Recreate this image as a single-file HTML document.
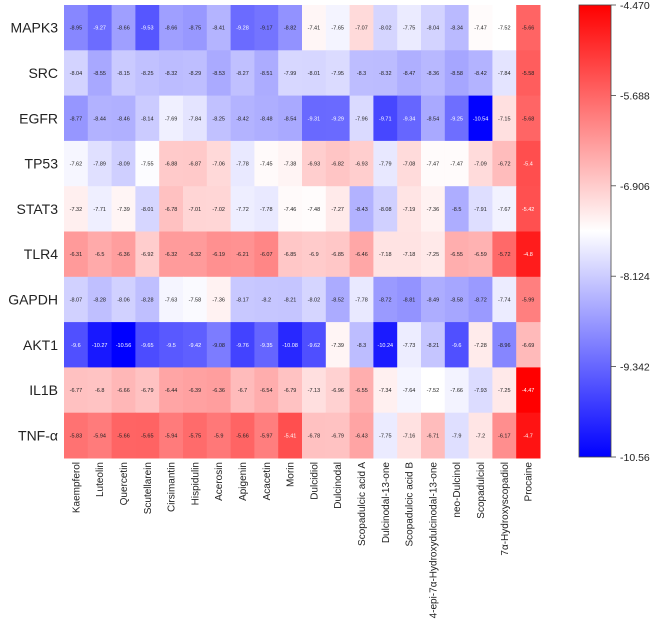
<!DOCTYPE html>
<html><head><meta charset="utf-8"><style>
body{margin:0;background:#fff;width:669px;height:629px;overflow:hidden;font-family:"Liberation Sans",Arial,sans-serif}
</style></head><body>
<svg id="chart" width="669" height="629" xmlns="http://www.w3.org/2000/svg">
<defs><linearGradient id="cbg" x1="0" y1="0" x2="0" y2="1">
<stop offset="0" stop-color="#ff0000"/><stop offset="0.5" stop-color="#ffffff"/><stop offset="1" stop-color="#0000ff"/></linearGradient></defs>
<g id="cells"></g><g id="rowlabels"></g><g id="collabels"></g>
<rect x="579" y="5" width="32" height="452" fill="url(#cbg)" stroke="#444" stroke-width="0.8"/>
<g id="cbticks"></g>
</svg>
<script>
const rows=["MAPK3","SRC","EGFR","TP53","STAT3","TLR4","GAPDH","AKT1","IL1B","TNF-α"];
const cols=["Kaempferol","Luteolin","Quercetin","Scutellarein","Cirsimantin","Hispidulin","Acerosin","Apigenin","Acacetin","Morin","Dulcidiol","Dulcinodal","Scopadulcic acid A","Dulcinodal-13-one","Scopadulcic acid B","4-epi-7α-Hydroxydulcinodal-13-one","neo-Dulcinol","Scopadulciol","7α-Hydroxyscopadiol","Procaine"];
const vMAPK3=[-8.95,-9.27,-8.66,-9.53,-8.66,-8.75,-8.41,-9.28,-9.17,-8.82,-7.41,-7.65,-7.07,-8.02,-7.75,-8.04,-8.34,-7.47,-7.52,-5.66];
const vSRC=[-8.04,-8.55,-8.15,-8.25,-8.32,-8.29,-8.53,-8.27,-8.51,-7.99,-8.01,-7.95,-8.3,-8.32,-8.47,-8.36,-8.58,-8.42,-7.84,-5.58];
const vEGFR=[-8.77,-8.44,-8.46,-8.14,-7.69,-7.84,-8.25,-8.42,-8.48,-8.54,-9.31,-9.29,-7.96,-9.71,-9.34,-8.54,-9.25,-10.54,-7.15,-5.68];
const vTP53=[-7.62,-7.89,-8.09,-7.55,-6.88,-6.87,-7.06,-7.78,-7.45,-7.38,-6.93,-6.82,-6.93,-7.79,-7.08,-7.47,-7.47,-7.09,-6.72,-5.4];
const vSTAT3=[-7.32,-7.71,-7.39,-8.01,-6.78,-7.01,-7.02,-7.72,-7.78,-7.46,-7.48,-7.27,-8.43,-8.08,-7.19,-7.36,-8.5,-7.91,-7.67,-5.42];
const vTLR4=[-6.31,-6.5,-6.36,-6.92,-6.32,-6.32,-6.19,-6.21,-6.07,-6.85,-6.9,-6.85,-6.46,-7.18,-7.18,-7.25,-6.55,-6.59,-5.72,-4.8];
const vGAPDH=[-8.07,-8.28,-8.06,-8.28,-7.63,-7.58,-7.36,-8.17,-8.2,-8.21,-8.02,-8.52,-7.78,-8.72,-8.81,-8.49,-8.58,-8.72,-7.74,-5.99];
const vAKT1=[-9.6,-10.27,-10.56,-9.65,-9.5,-9.42,-9.08,-9.76,-9.35,-10.08,-9.62,-7.39,-8.3,-10.24,-7.73,-8.21,-9.6,-7.28,-8.96,-6.69];
const vIL1B=[-6.77,-6.8,-6.66,-6.79,-6.44,-6.39,-6.36,-6.7,-6.54,-6.79,-7.13,-6.96,-6.55,-7.34,-7.64,-7.52,-7.66,-7.93,-7.25,-4.47];
const vTNF=[-5.83,-5.94,-5.66,-5.65,-5.94,-5.75,-5.9,-5.66,-5.97,-5.41,-6.78,-6.79,-6.43,-7.75,-7.16,-6.71,-7.9,-7.2,-6.17,-4.7];
const cbTicks=["-4.470","-5.688","-6.906","-8.124","-9.342","-10.56"];
const vmin=-10.56,vmax=-4.47;
const data=[vMAPK3,vSRC,vEGFR,vTP53,vSTAT3,vTLR4,vGAPDH,vAKT1,vIL1B,vTNF];
const NS="http://www.w3.org/2000/svg";
const X0=64,X1=540,Y0=5,Y1=458;
const cw=(X1-X0)/cols.length, rh=(Y1-Y0)/rows.length;
const xS=i=>X0+i*cw, yS=j=>Y0+j*rh;
function color(v){const mid=(vmin+vmax)/2;let r,g,b;
 if(v>=mid){const t=Math.min(1,(v-mid)/(vmax-mid));r=255;g=b=Math.round(255*(1-t));}
 else{const t=Math.min(1,(mid-v)/(mid-vmin));b=255;r=g=Math.round(255*(1-t));}
 return `rgb(${r},${g},${b})`;}
function mk(t,a,p){const e=document.createElementNS(NS,t);for(const k in a)e.setAttribute(k,a[k]);p.appendChild(e);return e;}
const gc=document.getElementById('cells');
data.forEach((row,j)=>row.forEach((v,i)=>{
 const r=mk('rect',{x:xS(i),y:yS(j),width:cw+0.5,height:rh+0.5,fill:color(v)},gc);
 
 
 const t=mk('text',{x:xS(i)+cw/2,y:yS(j)+rh/2+2,'text-anchor':'middle','font-size':'5.5',fill:(v<-9.2||v>-5.5)?'#fff':'#222'},gc);
 t.textContent=String(v);
 
 
}));
const gr=document.getElementById('rowlabels');
rows.forEach((n,j)=>{const t=mk('text',{x:58,y:yS(j)+rh/2+5,'text-anchor':'end','font-size':'14',fill:'#222'},gr);t.textContent=n;
 
 });
const gx=document.getElementById('collabels');
cols.forEach((n,i)=>{const x=xS(i)+cw/2+3.5,y=462;const t=mk('text',{x:x,y:y,'text-anchor':'end','font-size':'10',fill:'#222',transform:`rotate(-90 ${x} ${y})`},gx);t.textContent=n;
 
 });
const gt=document.getElementById('cbticks');
cbTicks.forEach((s,k)=>{const y=5+k*452/(cbTicks.length-1);
 const l=mk('line',{x1:611,x2:616,y1:y,y2:y,stroke:'#444','stroke-width':'0.8'},gt);
 
 
 const t=mk('text',{x:620,y:y+4,'font-size':'10.5',fill:'#222'},gt);t.textContent=s;
 
 });
</script>
</body></html>
